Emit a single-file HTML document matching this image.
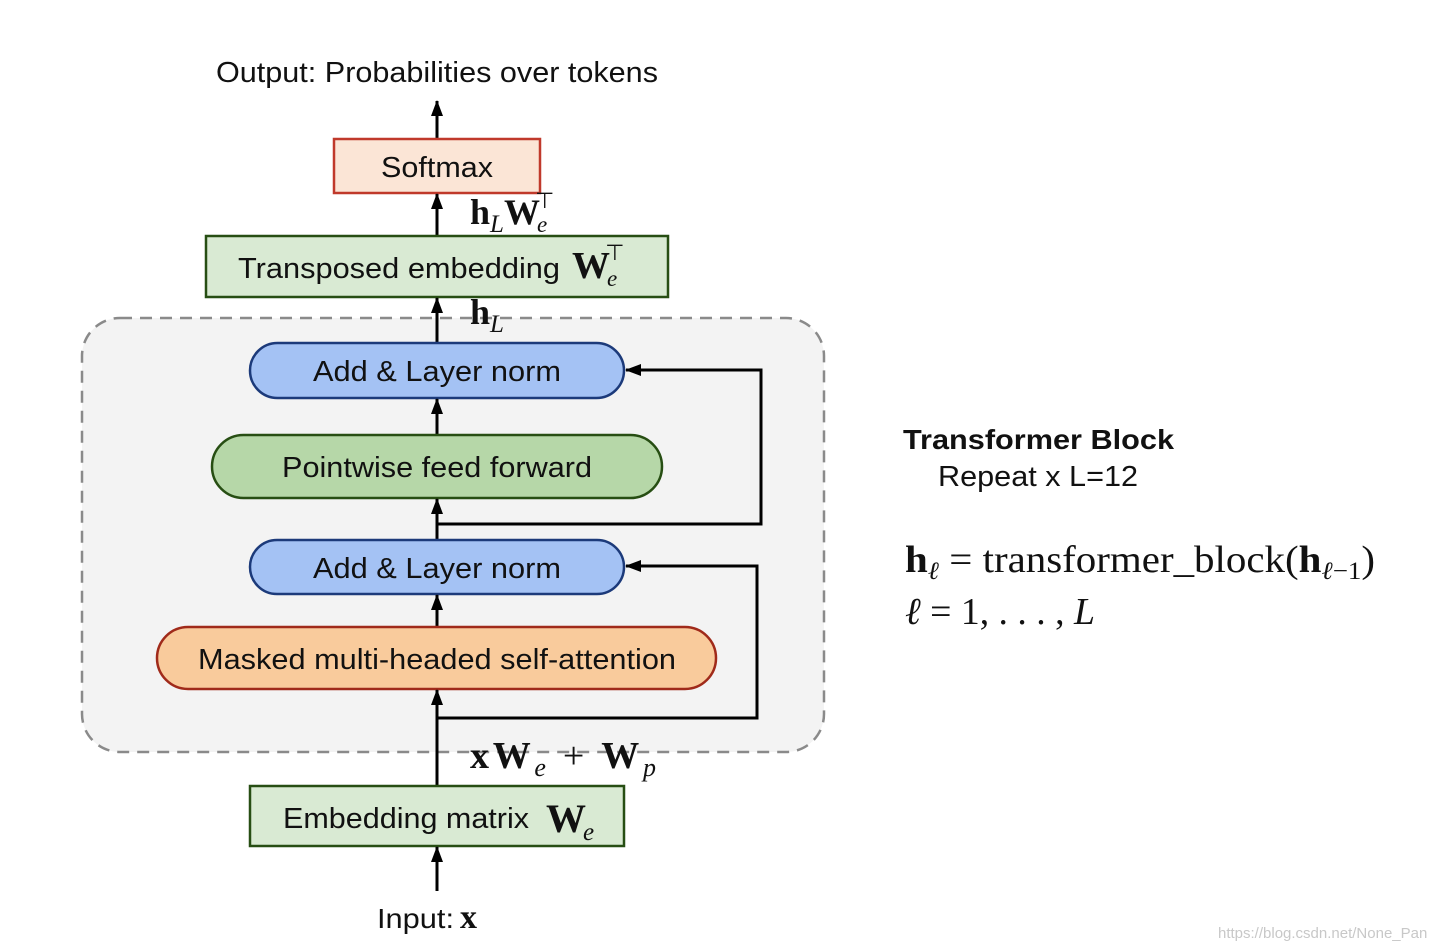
<!DOCTYPE html>
<html><head><meta charset="utf-8"><style>
html,body{margin:0;padding:0;background:#fff;}
svg{display:block;}
.s{font-family:"Liberation Sans",sans-serif;fill:#111;}
.m{font-family:"Liberation Serif",serif;fill:#111;}
</style></head><body>
<svg width="1448" height="950" viewBox="0 0 1448 950" xmlns="http://www.w3.org/2000/svg">
<defs>
<marker id="b" markerWidth="16" markerHeight="16" refX="15" refY="6" orient="auto" markerUnits="userSpaceOnUse">
<path d="M0,0 L16,6 L0,12 z" fill="#000"/></marker>
</defs>
<rect x="82" y="318" width="742" height="434" rx="38" fill="#f3f3f3" stroke="#8a8a8a" stroke-width="2.5" stroke-dasharray="12 8"/>

<text x="216" y="82" class="s" font-size="29" textLength="442" lengthAdjust="spacingAndGlyphs">Output: Probabilities over tokens</text>
<line x1="437" y1="139" x2="437" y2="101" stroke="#000" stroke-width="3" marker-end="url(#b)"/>
<rect x="334" y="139" width="206" height="54" fill="#fbe5d6" stroke="#c0392b" stroke-width="2.5"/>
<text x="381" y="177" class="s" font-size="29" textLength="112" lengthAdjust="spacingAndGlyphs">Softmax</text>

<line x1="437" y1="236" x2="437" y2="194" stroke="#000" stroke-width="3" marker-end="url(#b)"/>
<text x="470" y="224" class="m" font-size="36" font-weight="bold">h<tspan font-size="25" font-style="italic" font-weight="normal" dy="8">L</tspan><tspan dy="-8">W</tspan><tspan font-size="23" font-style="italic" font-weight="normal" dy="8" dx="-3">e</tspan><tspan font-size="22" font-weight="normal" dx="-12" dy="-24">⊤</tspan></text>

<rect x="206" y="236" width="462" height="61" fill="#d9ead3" stroke="#274e13" stroke-width="2.5"/>
<text x="238" y="278" class="s" font-size="29" textLength="322" lengthAdjust="spacingAndGlyphs">Transposed embedding</text>
<text x="572" y="278" class="m" font-size="38" font-weight="bold">W<tspan font-size="23" font-style="italic" font-weight="normal" dy="8" dx="-3">e</tspan><tspan font-size="22" font-weight="normal" dx="-12" dy="-26">⊤</tspan></text>

<line x1="437" y1="343" x2="437" y2="298" stroke="#000" stroke-width="3" marker-end="url(#b)"/>
<text x="470" y="324" class="m" font-size="36" font-weight="bold">h<tspan font-size="25" font-style="italic" font-weight="normal" dy="8">L</tspan></text>

<rect x="250" y="343" width="374" height="55" rx="27.5" fill="#a4c2f4" stroke="#1c3a7a" stroke-width="2.5"/>
<text x="313" y="381" class="s" font-size="29" textLength="248" lengthAdjust="spacingAndGlyphs">Add &amp; Layer norm</text>

<line x1="437" y1="435" x2="437" y2="399" stroke="#000" stroke-width="3" marker-end="url(#b)"/>
<rect x="212" y="435" width="450" height="63" rx="31.5" fill="#b6d7a8" stroke="#274e13" stroke-width="2.5"/>
<text x="282" y="477" class="s" font-size="29" textLength="310" lengthAdjust="spacingAndGlyphs">Pointwise feed forward</text>

<line x1="437" y1="540" x2="437" y2="499" stroke="#000" stroke-width="3" marker-end="url(#b)"/>
<polyline points="437,524 761,524 761,370 626,370" fill="none" stroke="#000" stroke-width="3" marker-end="url(#b)"/>

<rect x="250" y="540" width="374" height="54" rx="27" fill="#a4c2f4" stroke="#1c3a7a" stroke-width="2.5"/>
<text x="313" y="578" class="s" font-size="29" textLength="248" lengthAdjust="spacingAndGlyphs">Add &amp; Layer norm</text>

<line x1="437" y1="627" x2="437" y2="595" stroke="#000" stroke-width="3" marker-end="url(#b)"/>
<rect x="157" y="627" width="559" height="62" rx="31" fill="#f9cb9c" stroke="#a02a1a" stroke-width="2.5"/>
<text x="198" y="669" class="s" font-size="29" textLength="478" lengthAdjust="spacingAndGlyphs">Masked multi-headed self-attention</text>

<line x1="437" y1="786" x2="437" y2="690" stroke="#000" stroke-width="3" marker-end="url(#b)"/>
<polyline points="437,718 757,718 757,566 626,566" fill="none" stroke="#000" stroke-width="3" marker-end="url(#b)"/>

<text x="470" y="768" class="m" font-size="38" font-weight="bold" textLength="186" lengthAdjust="spacing">xW<tspan font-size="26" font-style="italic" font-weight="normal" dy="8">e</tspan><tspan font-weight="normal" dy="-8"> + </tspan>W<tspan font-size="26" font-style="italic" font-weight="normal" dy="8">p</tspan></text>

<rect x="250" y="786" width="374" height="60" fill="#d9ead3" stroke="#274e13" stroke-width="2.5"/>
<text x="283" y="828" class="s" font-size="29" textLength="246" lengthAdjust="spacingAndGlyphs">Embedding matrix</text>
<text x="546" y="832" class="m" font-size="40" font-weight="bold">W<tspan font-size="25" font-style="italic" font-weight="normal" dy="8" dx="-3">e</tspan></text>

<line x1="437" y1="891" x2="437" y2="847" stroke="#000" stroke-width="3" marker-end="url(#b)"/>
<text x="377" y="928" class="s" font-size="28" textLength="77" lengthAdjust="spacingAndGlyphs">Input:</text>
<text x="460" y="928" class="m" font-size="34" font-weight="bold">x</text>

<text x="903" y="449" class="s" font-size="28" font-weight="bold" textLength="271" lengthAdjust="spacingAndGlyphs">Transformer Block</text>
<text x="938" y="486" class="s" font-size="29" textLength="200" lengthAdjust="spacingAndGlyphs">Repeat x L=12</text>
<text x="905" y="572" class="m" font-size="38" textLength="470" lengthAdjust="spacingAndGlyphs"><tspan font-weight="bold">h</tspan><tspan font-size="25" font-style="italic" dy="7">ℓ</tspan><tspan dy="-7"> = transformer_block(</tspan><tspan font-weight="bold">h</tspan><tspan font-size="25" dy="7"><tspan font-style="italic">ℓ</tspan>−1</tspan><tspan dy="-7">)</tspan></text>
<text x="905" y="624" class="m" font-size="38" textLength="190" lengthAdjust="spacingAndGlyphs"><tspan font-style="italic">ℓ</tspan> = 1, . . . , <tspan font-style="italic">L</tspan></text>

<text x="1218" y="938" class="s" font-size="15" style="fill:#c8c8c8">https://blog.csdn.net/None_Pan</text>
</svg>
</body></html>
